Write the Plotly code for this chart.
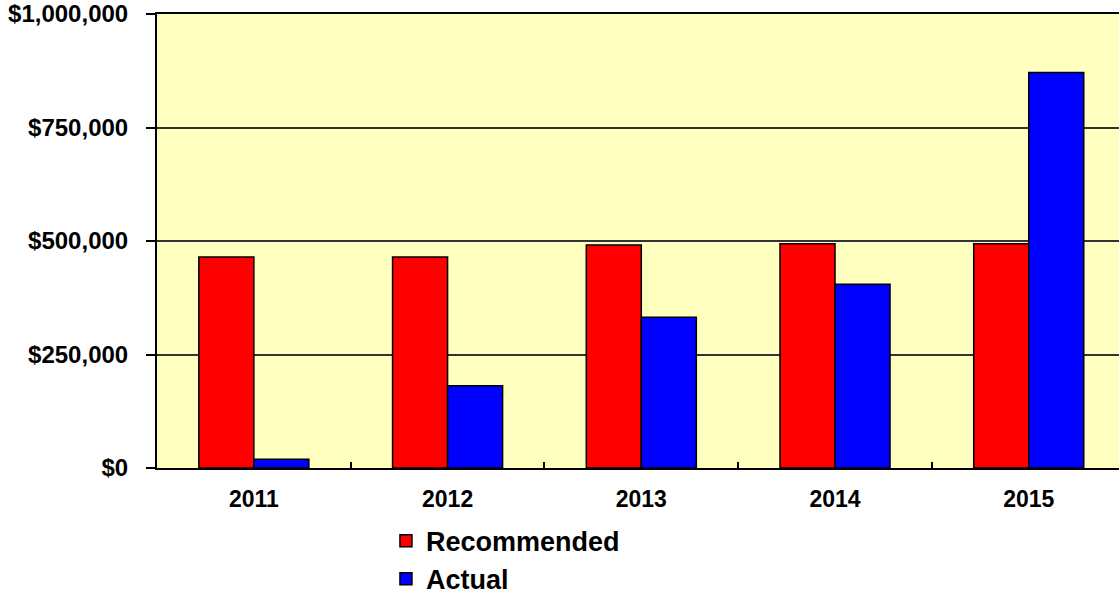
import plotly.graph_objects as go

years = ["2011", "2012", "2013", "2014", "2015"]
recommended = [465000, 465000, 491000, 494000, 494000]
actual = [19000, 181000, 332000, 405000, 871000]

font_family = "Liberation Sans, Arial, sans-serif"

fig = go.Figure()
fig.add_trace(go.Bar(
    x=years, y=recommended, name="Recommended",
    marker=dict(color="#FF0000", line=dict(color="#000000", width=1.5)),
))
fig.add_trace(go.Bar(
    x=years, y=actual, name="Actual",
    marker=dict(color="#0000FF", line=dict(color="#000000", width=1.5)),
))

fig.update_layout(
    width=1119, height=598, autosize=False,
    margin=dict(l=157, r=0, t=14, b=130, autoexpand=False),
    paper_bgcolor="#FFFFFF",
    plot_bgcolor="#FFFFC0",
    barmode="group", bargap=0.432, bargroupgap=0,
    font=dict(family=font_family, size=22, color="#000000", weight=700),
    showlegend=True,
    legend=dict(
        x=0.238, xanchor="left",
        yref="container", y=0.136, yanchor="top",
        orientation="v", bgcolor="rgba(0,0,0,0)",
        font=dict(family=font_family, size=27, color="#000000", weight=700),
        itemwidth=30, tracegroupgap=0,
    ),
)

fig.update_xaxes(
    type="category", range=[-0.5, 4.466],
    showline=True, linecolor="#000000", linewidth=2, mirror=True,
    ticks="inside", tickson="boundaries", ticklen=6, tickwidth=1.5, tickcolor="#000000",
    ticklabelstandoff=9,
    showgrid=False,
    tickfont=dict(family=font_family, size=23, weight=700),
)
fig.update_yaxes(
    range=[0, 1000000], dtick=250000, tick0=0,
    tickprefix="$", tickformat=",.0f",
    showline=True, linecolor="#000000", linewidth=2,
    ticks="outside", ticklen=9, tickwidth=1.5, tickcolor="#000000",
    ticklabelstandoff=13,
    showgrid=True, gridcolor="#333333", gridwidth=1.5,
    zeroline=False,
    tickfont=dict(family=font_family, size=24, weight=700),
)

fig.write_html("out.html")
